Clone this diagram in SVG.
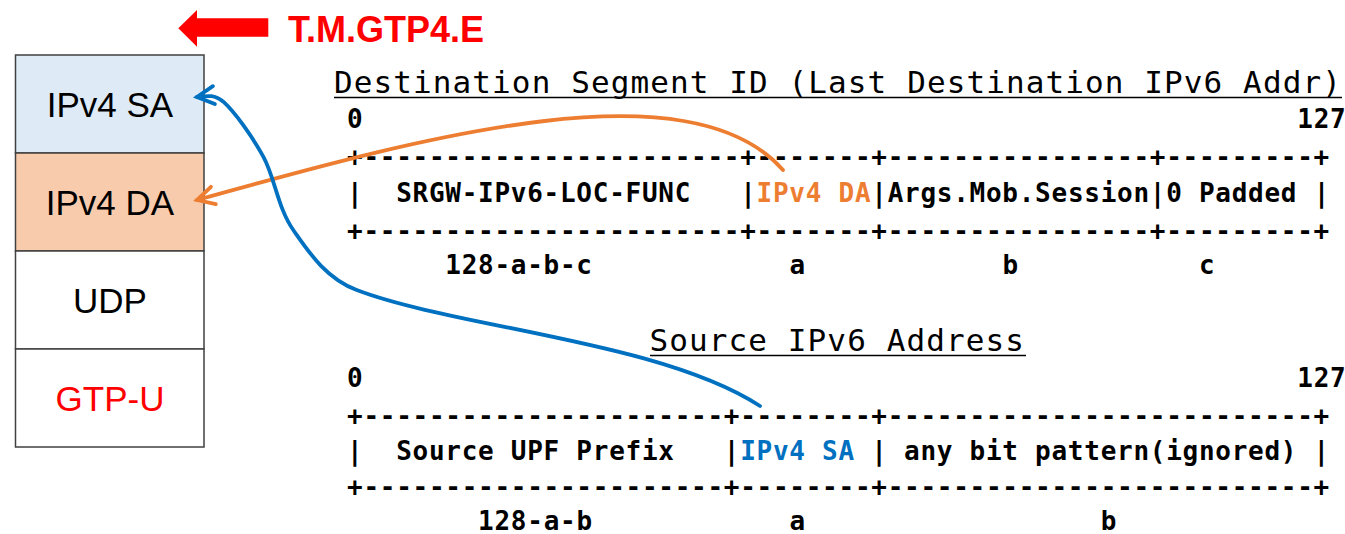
<svg xmlns="http://www.w3.org/2000/svg" width="1345" height="534" viewBox="0 0 1345 534">
  <style>
    .box { stroke: #404040; stroke-width: 1.5; }
    .lbl { font-family: "Liberation Sans", Arial, sans-serif; font-size: 35px; text-anchor: middle; fill: #000; }
    .mono { font-family: "DejaVu Sans Mono", "Liberation Mono", monospace; font-weight: bold; font-size: 26px; letter-spacing: 0.73px; white-space: pre; fill: #000; }
    .title { font-family: "DejaVu Sans Mono", "Liberation Mono", monospace; font-size: 31px; letter-spacing: 1.1px; white-space: pre; fill: #000; }
    .uline { stroke: #000; stroke-width: 1.6; }
    .org { fill: #ED7D31; }
    .blu { fill: #0070C0; }
    .link { fill: none; stroke-width: 3.8; stroke-linecap: round; }
  </style>
  <defs>
    <marker id="head-orange" viewBox="-22 -14 26 28" refX="0" refY="0" markerWidth="26" markerHeight="28" markerUnits="userSpaceOnUse" orient="auto">
      <path d="M -17,-9 L 0,0 L -17,9" fill="none" stroke="#ED7D31" stroke-width="3.8" stroke-linecap="round" stroke-linejoin="miter"/>
    </marker>
    <marker id="head-blue" viewBox="-22 -14 26 28" refX="0" refY="0" markerWidth="26" markerHeight="28" markerUnits="userSpaceOnUse" orient="auto">
      <path d="M -17,-9 L 0,0 L -17,9" fill="none" stroke="#0070C0" stroke-width="3.8" stroke-linecap="round" stroke-linejoin="miter"/>
    </marker>
  </defs>

  <!-- direction banner -->
  <g id="direction">
    <polygon points="178.3,28.3 197,10 197,18.3 268.3,18.3 268.3,36.7 197,36.7 197,46.7" fill="#FF0000"/>
    <text x="288" y="41.5" font-family="Liberation Sans, Arial, sans-serif" font-weight="bold" font-size="36" fill="#FF0000">T.M.GTP4.E</text>
  </g>

  <!-- IPv4 / UDP / GTP-U header stack -->
  <g id="node-ipv4-sa">
    <rect class="box" x="15.5" y="55" width="188.5" height="98" fill="#DEEBF7"/>
    <text class="lbl" x="110" y="116.5">IPv4 SA</text>
  </g>
  <g id="node-ipv4-da">
    <rect class="box" x="15.5" y="153" width="188.5" height="98" fill="#F8CBAD"/>
    <text class="lbl" x="110" y="214.5">IPv4 DA</text>
  </g>
  <g id="node-udp">
    <rect class="box" x="15.5" y="251" width="188.5" height="98" fill="#FFFFFF"/>
    <text class="lbl" x="110" y="312.5">UDP</text>
  </g>
  <g id="node-gtpu">
    <rect class="box" x="15.5" y="349" width="188.5" height="98" fill="#FFFFFF"/>
    <text class="lbl" x="110" y="410.5" style="fill:#FF0000">GTP-U</text>
  </g>

  <!-- Destination SID layout -->
  <g id="dest-sid">
    <text class="title" x="334" y="93">Destination Segment ID (Last Destination IPv6 Addr)</text>
    <line class="uline" x1="334" y1="97.5" x2="1342" y2="97.5"/>
    <text class="mono" x="347" y="128.3">0</text>
    <text class="mono" x="1297.3" y="128.3">127</text>
    <text class="mono" x="347" y="166">+-----------------------+-------+----------------+---------+</text>
    <text class="mono" x="347" y="201.7">|  SRGW-IPv6-LOC-FUNC   |<tspan class="org">IPv4 DA</tspan>|Args.Mob.Session|0 Padded |</text>
    <text class="mono" x="347" y="239.5">+-----------------------+-------+----------------+---------+</text>
    <text class="mono" x="445.3" y="273.5">128-a-b-c</text>
    <text class="mono" x="789.4" y="273.5">a</text>
    <text class="mono" x="1002.4" y="273.5">b</text>
    <text class="mono" x="1199" y="273.5">c</text>
  </g>

  <!-- Source address layout -->
  <g id="src-addr">
    <text class="title" x="649.5" y="351">Source IPv6 Address</text>
    <line class="uline" x1="650" y1="355.5" x2="1026" y2="355.5"/>
    <text class="mono" x="347" y="386.7">0</text>
    <text class="mono" x="1297.3" y="386.7">127</text>
    <text class="mono" x="347" y="424.5">+----------------------+--------+--------------------------+</text>
    <text class="mono" x="347" y="460">|  Source UPF Prefix   |<tspan class="blu">IPv4 SA</tspan> | any bit pattern(ignored) |</text>
    <text class="mono" x="347" y="496">+----------------------+--------+--------------------------+</text>
    <text class="mono" x="478.1" y="530">128-a-b</text>
    <text class="mono" x="789.4" y="530">a</text>
    <text class="mono" x="1100.7" y="530">b</text>
  </g>

  <!-- mapping connectors -->
  <g id="connectors">
    <path class="link" stroke="#ED7D31" marker-end="url(#head-orange)"
          d="M 783,170 C 690,65 430,135 197,200"/>
    <path class="link" stroke="#0070C0" marker-end="url(#head-blue)"
          d="M 760,406 C 660,341 456.7,328 356.7,290
             C 325.6,278.2 308.9,252.2 293.3,230
             C 277.7,207.8 275,178.1 263.3,156.7
             C 251.6,135.3 234.4,111.7 223.3,101.7
             C 214,94 206,96 197,97"/>
  </g>
</svg>
